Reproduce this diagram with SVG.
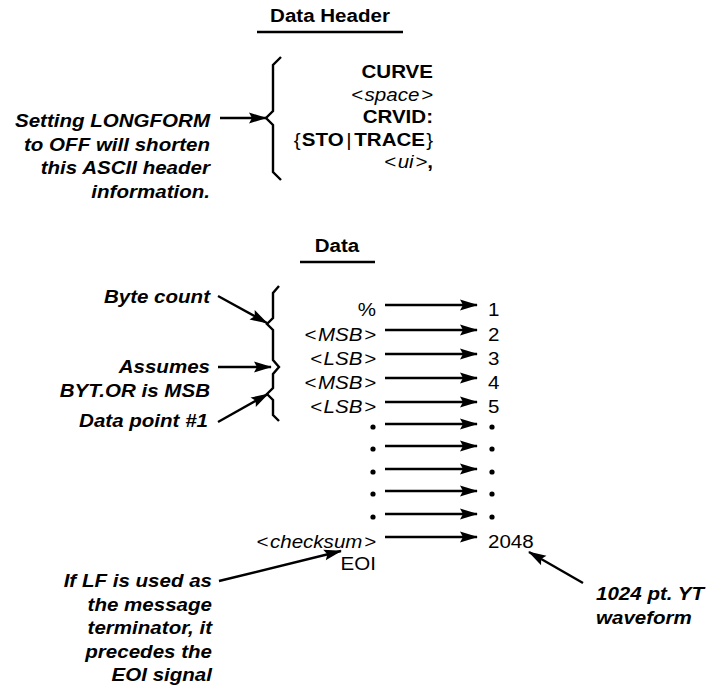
<svg xmlns="http://www.w3.org/2000/svg" width="709" height="694" viewBox="0 0 709 694">
<style>
.t{font-family:"Liberation Sans",Arial,Helvetica,sans-serif;font-size:19.2px;fill:#000}
.b{font-weight:bold}
.i{font-style:italic}
.n{font-style:normal}
.bi{font-weight:bold;font-style:italic}
.e{text-anchor:end}
.m{text-anchor:middle}
.ln{stroke:#000;stroke-width:2.4;fill:none;stroke-linejoin:miter}
.ar{stroke:#000;stroke-width:2.4;fill:none;marker-end:url(#ah)}
.dot{fill:#000}
</style>
<defs>
<marker id="ah" viewBox="-18 -6 20 12" refX="0" refY="0" markerWidth="20" markerHeight="12" markerUnits="userSpaceOnUse" orient="auto">
<path d="M1,0 L-17,-5.4 L-14,0 L-17,5.4 Z" fill="#000"/>
</marker>
</defs>

<g id="header-title">
<text class="t b m" transform="translate(330,22) scale(1.07,1)">Data Header</text>
<line class="ln" x1="257" y1="32" x2="403" y2="32"/>
</g>

<g id="header-brace">
<path class="ln" d="M281,57 L273,65 L273,111 L266,118 L273,125 L273,172 L281,180"/>
</g>

<g id="header-fields">
<text class="t b e" transform="translate(433,78) scale(1.07,1)">CURVE</text>
<text class="t i e" transform="translate(433,100.5) scale(1.07,1)">&lt;<tspan dx="1.5">space</tspan><tspan dx="1.5">&gt;</tspan></text>
<text class="t b e" transform="translate(433,123) scale(1.07,1)">CRVID:</text>
<text class="t e" transform="translate(433,145.5) scale(1.07,1)">{<tspan class="b" dx="1">STO</tspan><tspan dx="2.5">|</tspan><tspan class="b" dx="2.5">TRACE</tspan><tspan dx="1">}</tspan></text>
<text class="t i e" transform="translate(433,168) scale(1.07,1)">&lt;<tspan dx="1.5">ui</tspan><tspan dx="1.5">&gt;</tspan><tspan class="b n">,</tspan></text>
</g>

<g id="note-longform">
<text class="t bi e" transform="translate(210,127) scale(1.07,1)">Setting LONGFORM</text>
<text class="t bi e" transform="translate(210,150.5) scale(1.07,1)">to OFF will shorten</text>
<text class="t bi e" transform="translate(210,174) scale(1.07,1)">this ASCII header</text>
<text class="t bi e" transform="translate(210,197.5) scale(1.07,1)">information.</text>
</g>

<g id="data-title">
<text class="t b m" transform="translate(337,252) scale(1.07,1)">Data</text>
<line class="ln" x1="300" y1="262" x2="375" y2="262"/>
</g>

<g id="data-brace">
<path class="ln" d="M279,286 L273,293 L273,318 L267,324 L273,330 L273,360 L279,367 L273,374 L273,388 L267,394 L273,400 L273,415 L279,421"/>
</g>

<g id="note-bytecount">
<text class="t bi e" transform="translate(210,303) scale(1.07,1)">Byte count</text>
</g>
<g id="note-bytorder">
<text class="t bi e" transform="translate(210,373) scale(1.07,1)">Assumes</text>
<text class="t bi e" transform="translate(210,396.5) scale(1.07,1)">BYT.OR is MSB</text>
</g>
<g id="note-datapoint">
<text class="t bi e" transform="translate(208,427) scale(1.07,1)">Data point #1</text>
</g>

<g id="row-1">
<text class="t e" transform="translate(376,315.5) scale(1.07,1)">%</text>
<text class="t" transform="translate(488,315.5) scale(1.07,1)">1</text>
</g>
<g id="row-2">
<text class="t i e" transform="translate(376,340.5) scale(1.07,1)">&lt;<tspan dx="1.5">MSB</tspan><tspan dx="1.5">&gt;</tspan></text>
<text class="t" transform="translate(488,340.5) scale(1.07,1)">2</text>
</g>
<g id="row-3">
<text class="t i e" transform="translate(376,364.5) scale(1.07,1)">&lt;<tspan dx="1.5">LSB</tspan><tspan dx="1.5">&gt;</tspan></text>
<text class="t" transform="translate(488,364.5) scale(1.07,1)">3</text>
</g>
<g id="row-4">
<text class="t i e" transform="translate(376,388.5) scale(1.07,1)">&lt;<tspan dx="1.5">MSB</tspan><tspan dx="1.5">&gt;</tspan></text>
<text class="t" transform="translate(488,388.5) scale(1.07,1)">4</text>
</g>
<g id="row-5">
<text class="t i e" transform="translate(376,412.5) scale(1.07,1)">&lt;<tspan dx="1.5">LSB</tspan><tspan dx="1.5">&gt;</tspan></text>
<text class="t" transform="translate(488,412.5) scale(1.07,1)">5</text>
</g>
<g id="row-dots">
<circle class="dot" cx="373" cy="427" r="2.6"/><circle class="dot" cx="492" cy="427" r="2.6"/>
<circle class="dot" cx="373" cy="449" r="2.6"/><circle class="dot" cx="492" cy="449" r="2.6"/>
<circle class="dot" cx="373" cy="472" r="2.6"/><circle class="dot" cx="492" cy="472" r="2.6"/>
<circle class="dot" cx="373" cy="494" r="2.6"/><circle class="dot" cx="492" cy="494" r="2.6"/>
<circle class="dot" cx="373" cy="517" r="2.6"/><circle class="dot" cx="492" cy="517" r="2.6"/>
</g>
<g id="row-checksum">
<text class="t i e" transform="translate(376,547.5) scale(1.07,1)">&lt;<tspan dx="1.5">checksum</tspan><tspan dx="1.5">&gt;</tspan></text>
<text class="t" transform="translate(488,547.5) scale(1.07,1)">2048</text>
<text class="t e" transform="translate(376,570) scale(1.07,1)">EOI</text>
</g>

<g id="note-lf">
<text class="t bi e" transform="translate(212,587) scale(1.07,1)">If LF is used as</text>
<text class="t bi e" transform="translate(212,610.5) scale(1.07,1)">the message</text>
<text class="t bi e" transform="translate(212,634) scale(1.07,1)">terminator, it</text>
<text class="t bi e" transform="translate(212,657.5) scale(1.07,1)">precedes the</text>
<text class="t bi e" transform="translate(212,681) scale(1.07,1)">EOI signal</text>
</g>
<g id="note-waveform">
<text class="t bi" transform="translate(596,600) scale(1.07,1)">1024 pt. YT</text>
<text class="t bi" transform="translate(596,623.5) scale(1.07,1)">waveform</text>
</g>

<g id="connectors">
<line class="ar" x1="220" y1="118" x2="266" y2="118"/>
<line class="ar" x1="218" y1="296" x2="267" y2="323"/>
<line class="ar" x1="218" y1="367" x2="271" y2="367"/>
<line class="ar" x1="218" y1="422" x2="268" y2="394"/>
<line class="ar" x1="385" y1="305" x2="477" y2="305"/>
<line class="ar" x1="385" y1="330" x2="477" y2="330"/>
<line class="ar" x1="385" y1="354" x2="477" y2="354"/>
<line class="ar" x1="385" y1="378" x2="477" y2="378"/>
<line class="ar" x1="385" y1="402" x2="477" y2="402"/>
<line class="ar" x1="385" y1="424" x2="477" y2="424"/>
<line class="ar" x1="385" y1="446" x2="477" y2="446"/>
<line class="ar" x1="385" y1="469" x2="477" y2="469"/>
<line class="ar" x1="385" y1="491" x2="477" y2="491"/>
<line class="ar" x1="385" y1="514" x2="477" y2="514"/>
<line class="ar" x1="385" y1="537" x2="477" y2="537"/>
<line class="ar" x1="219" y1="581" x2="341" y2="551"/>
<line class="ar" x1="583" y1="583" x2="529" y2="552"/>
</g>
</svg>
